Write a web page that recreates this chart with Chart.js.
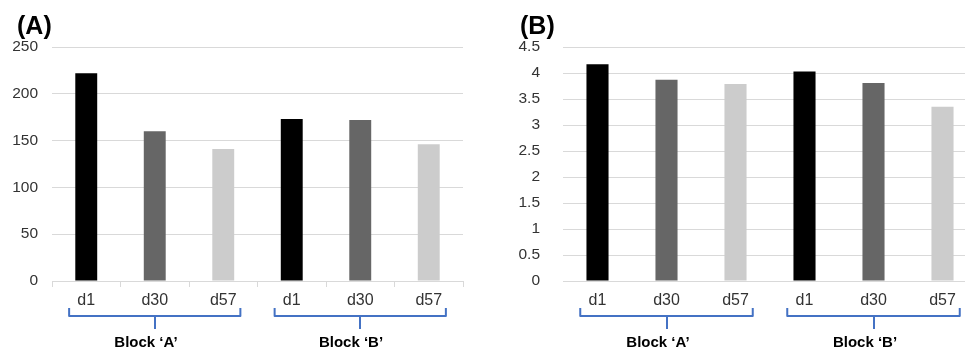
<!DOCTYPE html>
<html>
<head>
<meta charset="utf-8">
<script src="https://cdn.jsdelivr.net/npm/chart.js@4"></script>
<style>
  html, body { margin: 0; padding: 0; background: #fff; overflow: hidden; }
  .panel { position: absolute; top: 0; height: 352px; }
  .tag { position: absolute; font: bold 25px "Liberation Sans", Arial, sans-serif; color: #000; line-height: 25px; }
</style>
</head>
<body>
<div class="panel" style="left:0;width:480px"><canvas id="chartA"></canvas></div>
<div class="panel" style="left:490px;width:490px"><canvas id="chartB"></canvas></div>
<div class="tag" style="left:17px;top:13px">(A)</div>
<div class="tag" style="left:520px;top:13px">(B)</div>
<script>
const days = ['d1', 'd30', 'd57', 'd1', 'd30', 'd57'];
const blocks = ['Block ‘A’', 'Block ‘B’'];
const blockFirst = [0, 3];
const blockLast = [2, 5];
const valuesA = [222, 160, 141, 173, 172, 146];
const valuesB = [4.17, 3.87, 3.79, 4.03, 3.81, 3.35];
const barColors = ['#000000', '#666666', '#cccccc', '#000000', '#666666', '#cccccc'];
const yMaxA = 250, yStepA = 50;
const yMaxB = 4.5, yStepB = 0.5;

Chart.defaults.font.family = "'Liberation Sans', Arial, sans-serif";

// curly brackets under each block of days
const braces = {
  id: 'braces',
  afterDraw(chart) {
    const {ctx, chartArea, scales: {x}} = chart;
    const half = (x.getPixelForValue(1) - x.getPixelForValue(0)) * 0.25;
    const b = chartArea.bottom;
    ctx.save();
    ctx.strokeStyle = '#4472c4';
    ctx.lineWidth = 2;
    ctx.lineJoin = 'round';
    ctx.fillStyle = '#000';
    ctx.font = "bold 15px 'Liberation Sans', Arial, sans-serif";
    ctx.textAlign = 'center';
    ctx.textBaseline = 'middle';
    blocks.forEach((name, i) => {
      const l = x.getPixelForValue(blockFirst[i]) - half;
      const r = x.getPixelForValue(blockLast[i]) + half;
      const c = Math.round((l + r) / 2);
      ctx.beginPath();
      ctx.moveTo(l, b + 27);
      ctx.lineTo(l, b + 35);
      ctx.lineTo(r, b + 35);
      ctx.lineTo(r, b + 27);
      ctx.moveTo(c, b + 35);
      ctx.lineTo(c, b + 48);
      ctx.stroke();
      ctx.fillText(name, c - 9, b + 62);
    });
    ctx.restore();
  }
};

function makeChart(id, values, yMax, yStep, yWidth, yPad, rightPad, showTicks) {
  return new Chart(document.getElementById(id), {
    type: 'bar',
    data: {
      labels: days,
      datasets: [{
        data: values,
        backgroundColor: barColors,
        barPercentage: 0.32,
        categoryPercentage: 1,
      }],
    },
    options: {
      responsive: true,
      maintainAspectRatio: false,
      animation: false,
      layout: {padding: {top: 47, right: rightPad, bottom: 0, left: 0}},
      plugins: {legend: {display: false}, tooltip: {enabled: false}},
      scales: {
        x: {
          grid: {drawOnChartArea: false, drawTicks: showTicks, tickLength: 6, color: '#d9d9d9'},
          border: {color: '#d9d9d9'},
          ticks: {color: '#333333', font: {size: 16}, padding: showTicks ? 4 : 10, maxRotation: 0},
          afterFit(s) { s.height = 71; },
        },
        y: {
          min: 0,
          max: yMax,
          grid: {color: '#d9d9d9', drawTicks: false},
          border: {display: false},
          ticks: {
            stepSize: yStep,
            padding: yPad,
            color: '#333333',
            font: {size: 15.5},
            callback: v => String(v),
          },
          afterFit(s) { s.width = yWidth; },
        },
      },
    },
    plugins: [braces],
  });
}

makeChart('chartA', valuesA, yMaxA, yStepA, 52, 14, 17, true);
makeChart('chartB', valuesB, yMaxB, yStepB, 73, 23, 3, false);
</script>
</body>
</html>
